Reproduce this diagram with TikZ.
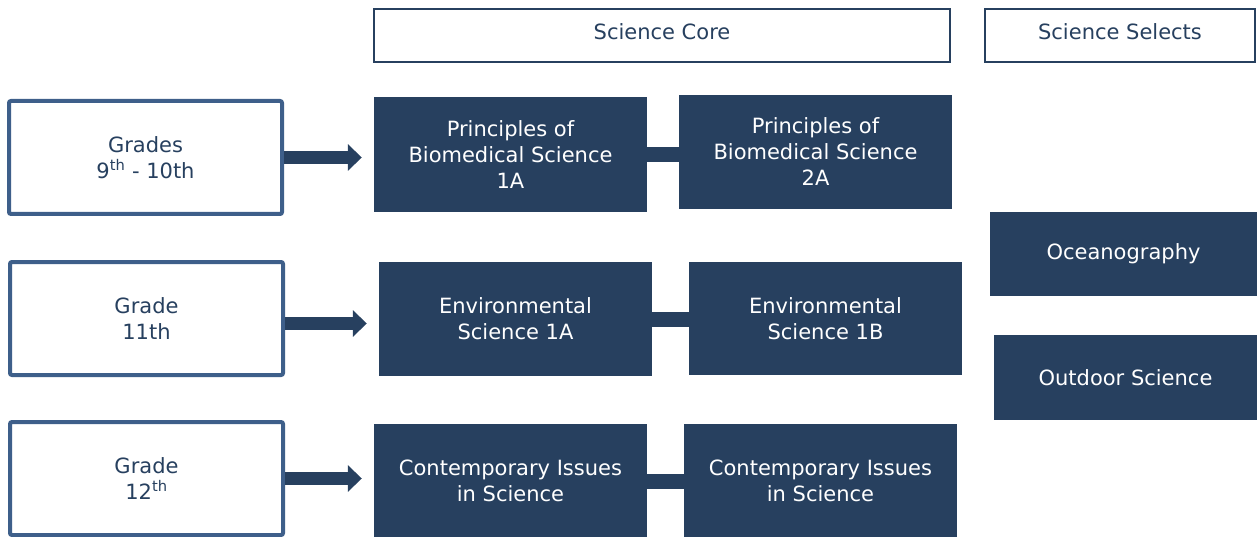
\documentclass[tikz,border=0pt]{standalone}
\usepackage{fontspec}
\setmainfont{DejaVu Sans}
\usetikzlibrary{arrows.meta}
\definecolor{navy}{HTML}{27405F}
\definecolor{steel}{HTML}{3E5F8A}
\tikzset{
  base/.style={rectangle, inner sep=0pt, align=center, font=\fontsize{21}{26}\selectfont},
  hdr/.style={base, draw=navy, line width=2pt, fill=white, text=navy},
  hdrtext/.style={text=navy, font=\fontsize{21}{26}\selectfont, inner sep=0pt, yshift=4pt},
  grade/.style={base, draw=steel, line width=4pt, rounded corners=2pt, fill=white, text=navy, minimum width=273pt, minimum height=113pt},
  course/.style={base, fill=navy, text=white},
  flow/.style={navy, line width=12.5pt, -{Triangle[length=14pt,width=26pt]}, shorten >=12pt},
  link/.style={navy, line width=15pt}
}
\begin{document}
\begin{tikzpicture}[x=1pt,y=-1pt]
\useasboundingbox (0,0) rectangle (1257,537);
% headers
\node[hdr, minimum width=576pt, minimum height=53pt, label={[hdrtext]center:Science Core}] (core) at (662,35.5) {};
\node[hdr, minimum width=270pt, minimum height=53pt, label={[hdrtext]center:Science Selects}] (sel) at (1120,35.5) {};
% grade boxes
\node[grade] (g1) at (145.5,157.5) {Grades\\9\textsuperscript{th} - 10th};
\node[grade] (g2) at (146.5,318.5) {Grade\\11th};
\node[grade] (g3) at (146.5,478.5) {Grade\\12\textsuperscript{th}};
% core courses
\node[course, minimum width=273pt, minimum height=115pt] (p1) at (510.5,154.5) {Principles of\\Biomedical Science\\1A};
\node[course, minimum width=273pt, minimum height=114pt] (p2) at (815.5,152) {Principles of\\Biomedical Science\\2A};
\node[course, minimum width=273pt, minimum height=114pt] (e1) at (515.5,319) {Environmental\\Science 1A};
\node[course, minimum width=273pt, minimum height=113pt] (e2) at (825.5,318.5) {Environmental\\Science 1B};
\node[course, minimum width=273pt, minimum height=113pt] (c1) at (510.5,480.5) {Contemporary Issues\\in Science};
\node[course, minimum width=273pt, minimum height=113pt] (c2) at (820.5,480.5) {Contemporary Issues\\in Science};
% selects
\node[course, minimum width=267pt, minimum height=84pt] (oc) at (1123.5,254) {Oceanography};
\node[course, minimum width=263pt, minimum height=85pt] (od) at (1125.5,377.5) {Outdoor Science};
% arrows
\draw[flow] (g1.east) -- (g1.east -| p1.west);
\draw[flow] ([yshift=-5pt]g2.east) -- ([yshift=-5pt]g2.east -| e1.west);
\draw[flow] (g3.east) -- (g3.east -| c1.west);
% links
\draw[link] (p1.east) -- (p1.east -| p2.west);
\draw[link] (e1.east) -- (e1.east -| e2.west);
\draw[link] ([yshift=-1pt]c1.east) -- ([yshift=-1pt]c1.east -| c2.west);
\end{tikzpicture}
\end{document}
